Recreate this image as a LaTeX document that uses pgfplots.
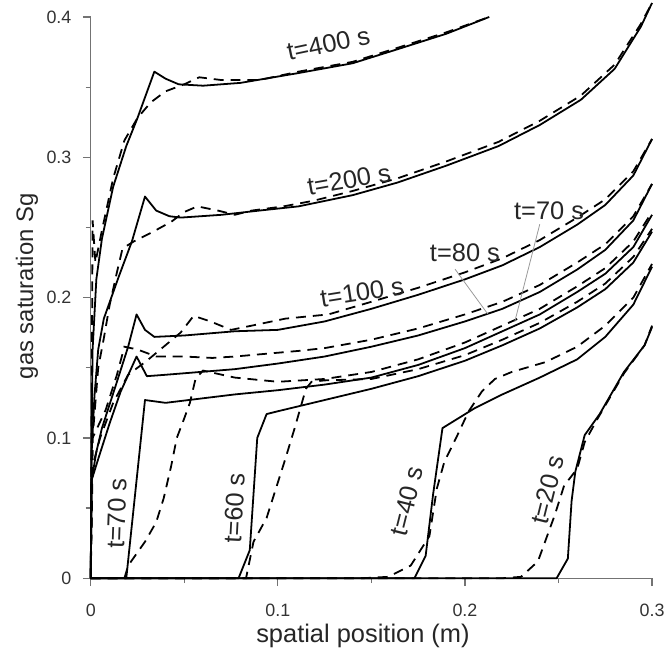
\documentclass[border=0pt]{standalone}
\usepackage{pgfplots}
\pgfplotsset{compat=1.18}
\usepackage{fontspec}
\setmainfont{Liberation Sans}
\tikzset{
 sld/.style={black, line width=0.9pt, line join=round},
 dsh/.style={black, line width=0.9pt, dash pattern=on 5pt off 3.5pt},
 lbl/.style={font=\fontsize{12.8}{14}\selectfont, text=black!85, inner sep=0pt},
}
\begin{document}
\begin{tikzpicture}
\begin{axis}[
 scale only axis, width=281.5bp, height=281.5bp,
 xmin=0, xmax=0.3, ymin=0, ymax=0.4,
 axis lines*=left, clip=false,
 axis line style={black!55, line width=0.6pt},
 tick align=outside,
 major tick length=4bp, minor tick length=2.5bp,
 every tick/.style={black!55, line width=0.6pt},
 xtick={0,0.1,0.2,0.3}, ytick={0,0.1,0.2,0.3,0.4},
 minor xtick={0.05,0.15,0.25}, minor ytick={0.05,0.15,0.25,0.35},
 xticklabels={0,0.1,0.2,0.3}, yticklabels={0,0.1,0.2,0.3,0.4},
 tick label style={font=\fontsize{9}{10}\selectfont, text=black!80, inner sep=0.5pt},
 xticklabel style={yshift=-8bp},
 yticklabel style={xshift=-5bp},
 xlabel={spatial position (m)}, ylabel={gas saturation Sg},
 xlabel style={font=\fontsize{12.8}{14}\selectfont, text=black!85, at={(axis description cs:0.485,-0.102)}, anchor=center},
 ylabel style={font=\fontsize{12}{14}\selectfont, text=black!85, at={(axis description cs:-0.1137,0.52)}, anchor=center},
]
\coordinate (SW) at (rel axis cs:0,0);
\coordinate (NE) at (rel axis cs:1,1);
% t=400
\addplot[sld] coordinates {(0,0) (0.0005,0.10) (0.001,0.163) (0.003,0.213) (0.006,0.242) (0.012,0.279) (0.019,0.308) (0.025,0.328) (0.034,0.361) (0.040,0.356) (0.047,0.352) (0.060,0.351) (0.080,0.353) (0.111,0.360) (0.140,0.367) (0.164,0.377) (0.190,0.388) (0.213,0.400)};
\addplot[dsh] coordinates {(0,0) (0.0005,0.12) (0.001,0.255) (0.0025,0.225) (0.006,0.248) (0.012,0.285) (0.018,0.312) (0.025,0.328) (0.032,0.339) (0.040,0.347) (0.050,0.352) (0.058,0.357) (0.070,0.355) (0.090,0.355) (0.111,0.361) (0.140,0.368) (0.164,0.378) (0.190,0.389) (0.213,0.400)};
% t=200
\addplot[sld] coordinates {(0,0) (0.0005,0.09) (0.002,0.13) (0.004,0.163) (0.007,0.185) (0.015,0.215) (0.022,0.240) (0.029,0.272) (0.035,0.262) (0.042,0.258) (0.048,0.257) (0.070,0.259) (0.090,0.262) (0.111,0.265) (0.140,0.273) (0.164,0.282) (0.190,0.294) (0.218,0.308) (0.240,0.323) (0.262,0.341) (0.280,0.363) (0.294,0.393) (0.300,0.410)};
\addplot[dsh] coordinates {(0,0) (0.001,0.10) (0.004,0.150) (0.007,0.171) (0.010,0.194) (0.014,0.218) (0.017,0.235) (0.023,0.240) (0.032,0.246) (0.043,0.254) (0.050,0.261) (0.057,0.265) (0.068,0.262) (0.077,0.259) (0.086,0.262) (0.103,0.265) (0.119,0.269) (0.140,0.276) (0.164,0.285) (0.190,0.297) (0.218,0.311) (0.240,0.326) (0.262,0.344) (0.280,0.366) (0.294,0.395) (0.300,0.410)};
% t=100
\addplot[sld] coordinates {(0,0) (0.0005,0.07) (0.003,0.090) (0.006,0.107) (0.014,0.140) (0.020,0.165) (0.0245,0.188) (0.029,0.177) (0.034,0.172) (0.050,0.173) (0.077,0.176) (0.100,0.177) (0.125,0.183) (0.150,0.192) (0.175,0.202) (0.200,0.213) (0.220,0.223) (0.240,0.236) (0.260,0.252) (0.275,0.266) (0.290,0.287) (0.300,0.313)};
\addplot[dsh] coordinates {(0,0) (0.001,0.08) (0.005,0.100) (0.012,0.125) (0.020,0.145) (0.030,0.155) (0.039,0.165) (0.048,0.175) (0.055,0.187) (0.064,0.183) (0.075,0.177) (0.086,0.180) (0.104,0.185) (0.127,0.188) (0.150,0.197) (0.175,0.207) (0.200,0.218) (0.220,0.228) (0.240,0.241) (0.260,0.257) (0.275,0.270) (0.290,0.290) (0.300,0.313)};
% t=80
\addplot[sld] coordinates {(0,0) (0.0005,0.07) (0.004,0.085) (0.010,0.110) (0.016,0.133) (0.0245,0.158) (0.030,0.144) (0.040,0.145) (0.077,0.149) (0.100,0.153) (0.125,0.158) (0.150,0.165) (0.175,0.173) (0.200,0.183) (0.220,0.192) (0.240,0.204) (0.260,0.220) (0.275,0.234) (0.290,0.255) (0.300,0.281)};
\addplot[dsh] coordinates {(0,0) (0.001,0.10) (0.008,0.120) (0.014,0.145) (0.018,0.165) (0.025,0.163) (0.035,0.158) (0.050,0.158) (0.065,0.157) (0.077,0.158) (0.111,0.162) (0.125,0.164) (0.150,0.170) (0.175,0.178) (0.200,0.188) (0.220,0.197) (0.240,0.209) (0.260,0.225) (0.275,0.238) (0.290,0.258) (0.300,0.281)};
% t=70
\addplot[sld] coordinates {(0,0) (0.019,0) (0.029,0.127) (0.040,0.125) (0.077,0.131) (0.100,0.134) (0.125,0.138) (0.150,0.143) (0.175,0.152) (0.200,0.164) (0.220,0.176) (0.240,0.188) (0.260,0.204) (0.275,0.217) (0.290,0.236) (0.300,0.259)};
\addplot[dsh] coordinates {(0,0) (0.018,0) (0.020,0.009) (0.029,0.026) (0.035,0.040) (0.039,0.057) (0.043,0.080) (0.046,0.100) (0.050,0.114) (0.053,0.125) (0.056,0.142) (0.060,0.148) (0.077,0.143) (0.100,0.140) (0.125,0.142) (0.150,0.147) (0.175,0.156) (0.200,0.168) (0.220,0.180) (0.240,0.192) (0.260,0.208) (0.275,0.221) (0.290,0.240) (0.300,0.261)};
% t=60
\addplot[sld] coordinates {(0,0) (0.079,0) (0.085,0.020) (0.089,0.100) (0.094,0.117) (0.100,0.119) (0.125,0.127) (0.150,0.135) (0.175,0.144) (0.200,0.155) (0.220,0.166) (0.240,0.178) (0.260,0.193) (0.275,0.206) (0.290,0.225) (0.300,0.247)};
\addplot[dsh] coordinates {(0,0) (0.083,0) (0.087,0.026) (0.094,0.043) (0.099,0.064) (0.104,0.085) (0.109,0.107) (0.112,0.121) (0.115,0.135) (0.118,0.140) (0.125,0.141) (0.150,0.142) (0.175,0.149) (0.200,0.159) (0.220,0.170) (0.240,0.182) (0.260,0.197) (0.275,0.210) (0.290,0.229) (0.300,0.249)};
% t=40
\addplot[sld] coordinates {(0,0) (0.173,0) (0.179,0.016) (0.183,0.060) (0.188,0.107) (0.205,0.121) (0.220,0.131) (0.240,0.143) (0.260,0.156) (0.275,0.172) (0.290,0.195) (0.300,0.222)};
\addplot[dsh] coordinates {(0,0) (0.145,0) (0.159,0.001) (0.171,0.009) (0.181,0.030) (0.185,0.064) (0.189,0.083) (0.196,0.102) (0.202,0.119) (0.209,0.133) (0.216,0.142) (0.225,0.147) (0.243,0.154) (0.260,0.165) (0.275,0.180) (0.290,0.200) (0.300,0.224)};
% t=20
\addplot[sld] coordinates {(0,0) (0.249,0) (0.255,0.014) (0.257,0.055) (0.259,0.076) (0.264,0.102) (0.272,0.117) (0.285,0.147) (0.296,0.166) (0.300,0.179)};
\addplot[dsh] coordinates {(0,0) (0.220,0) (0.230,0.001) (0.239,0.012) (0.248,0.045) (0.253,0.066) (0.260,0.078) (0.264,0.097) (0.271,0.114) (0.285,0.146) (0.296,0.166) (0.300,0.180)};
% leaders
\addplot[black!40, line width=0.4pt] coordinates {(0.1947,0.2203) (0.2122,0.1883)};
\addplot[black!40, line width=0.4pt] coordinates {(0.2400,0.2523) (0.2266,0.1827)};
% labels
\node[lbl, rotate=12] at (axis cs:0.127,0.381) {t=400 s};
\node[lbl, rotate=10] at (axis cs:0.138,0.284) {t=200 s};
\node[lbl, rotate=9] at (axis cs:0.145,0.204) {t=100 s};
\node[lbl] at (axis cs:0.200,0.232) {t=80 s};
\node[lbl] at (axis cs:0.245,0.262) {t=70 s};
\node[lbl, rotate=88] at (axis cs:0.0138,0.046) {t=70 s};
\node[lbl, rotate=87] at (axis cs:0.077,0.050) {t=60 s};
\node[lbl, rotate=76] at (axis cs:0.169,0.055) {t=40 s};
\node[lbl, rotate=76] at (axis cs:0.244,0.063) {t=20 s};
\end{axis}
\path ([shift={(-45.5bp,-34.5bp)}]SW) rectangle ([shift={(7bp,8.5bp)}]NE);
\end{tikzpicture}
\end{document}
